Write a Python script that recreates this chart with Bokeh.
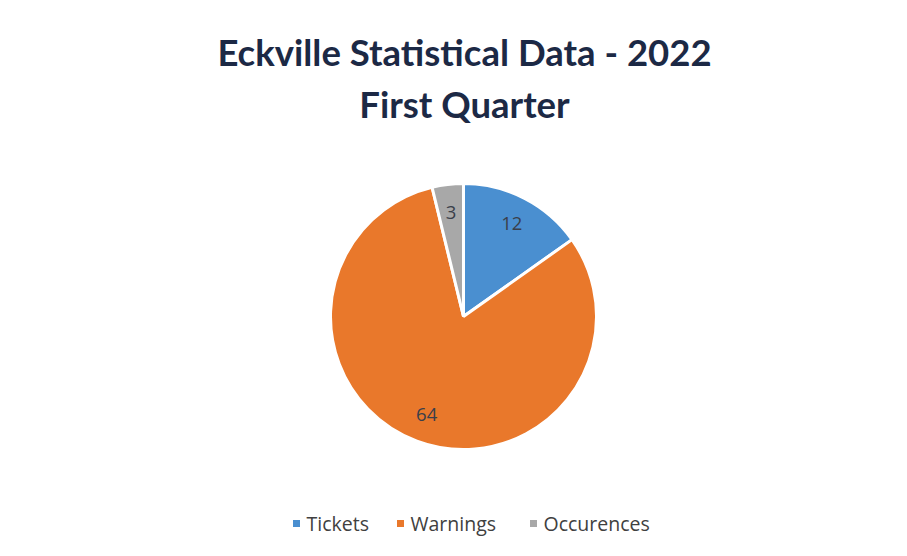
import math
from bokeh.plotting import figure
from bokeh.models import Range1d, ColumnDataSource
from bokeh.core.properties import value
from bokeh.embed import file_html
from bokeh.resources import INLINE

# ---- data ----
categories = ["Tickets", "Warnings", "Occurences"]
counts = [12, 64, 3]
colors = ["#4A8FD0", "#E9782B", "#A8A8A8"]
title_lines = ["Eckville Statistical Data - 2022", "First Quarter"]

W, H = 891, 540
# data coords: x = page x, y = 556 - page y
p = figure(width=W, height=H, output_backend="svg", toolbar_location=None,
           x_range=Range1d(0, W), y_range=Range1d(16, 16 + H),
           min_border=0, outline_line_color=None)
p.axis.visible = False
p.grid.visible = False
p.background_fill_color = "white"
p.border_fill_color = "white"

cx, cy, R = 463, 556 - 316, 133
total = sum(counts)
starts, ends, lx, ly = [], [], [], []
a = math.pi / 2
for c in counts:
    sweep = 2 * math.pi * c / total
    end = a
    start = a - sweep
    starts.append(start)
    ends.append(end)
    mid = (start + end) / 2
    lx.append(cx + 0.79 * R * math.cos(mid))
    ly.append(cy + 0.79 * R * math.sin(mid))
    a = start

src = ColumnDataSource(dict(start=starts, end=ends, color=colors,
                            label=[str(c) for c in counts], lx=lx, ly=ly))
p.wedge(x=cx, y=cy, radius=R, start_angle="start", end_angle="end",
        fill_color="color", line_color="white", line_width=3, source=src)
p.text(x="lx", y="ly", text="label", source=src, text_align="center",
       text_baseline="middle", text_font=value("Open Sans"),
       text_font_size="18.5px", text_color="#3A3F4A")

# title
p.text(x=[464, 464], y=[556 - 51, 556 - 103], text=title_lines,
       text_align="center", text_baseline="middle",
       text_font=value("Lato"), text_font_style="bold",
       text_font_size="36.5px", text_color="#1C2945")

# legend
mx = [296, 400, 533]
my = [556 - 523] * 3
p.rect(x=mx, y=my, width=7, height=7, fill_color=colors, line_color=None)
p.text(x=[m + 10 for m in mx], y=my, text=categories, text_align="left",
       text_baseline="middle", text_font=value("Open Sans"),
       text_font_size="19.5px", text_color="#404040")

open("out.html", "w").write(file_html(p, INLINE))
